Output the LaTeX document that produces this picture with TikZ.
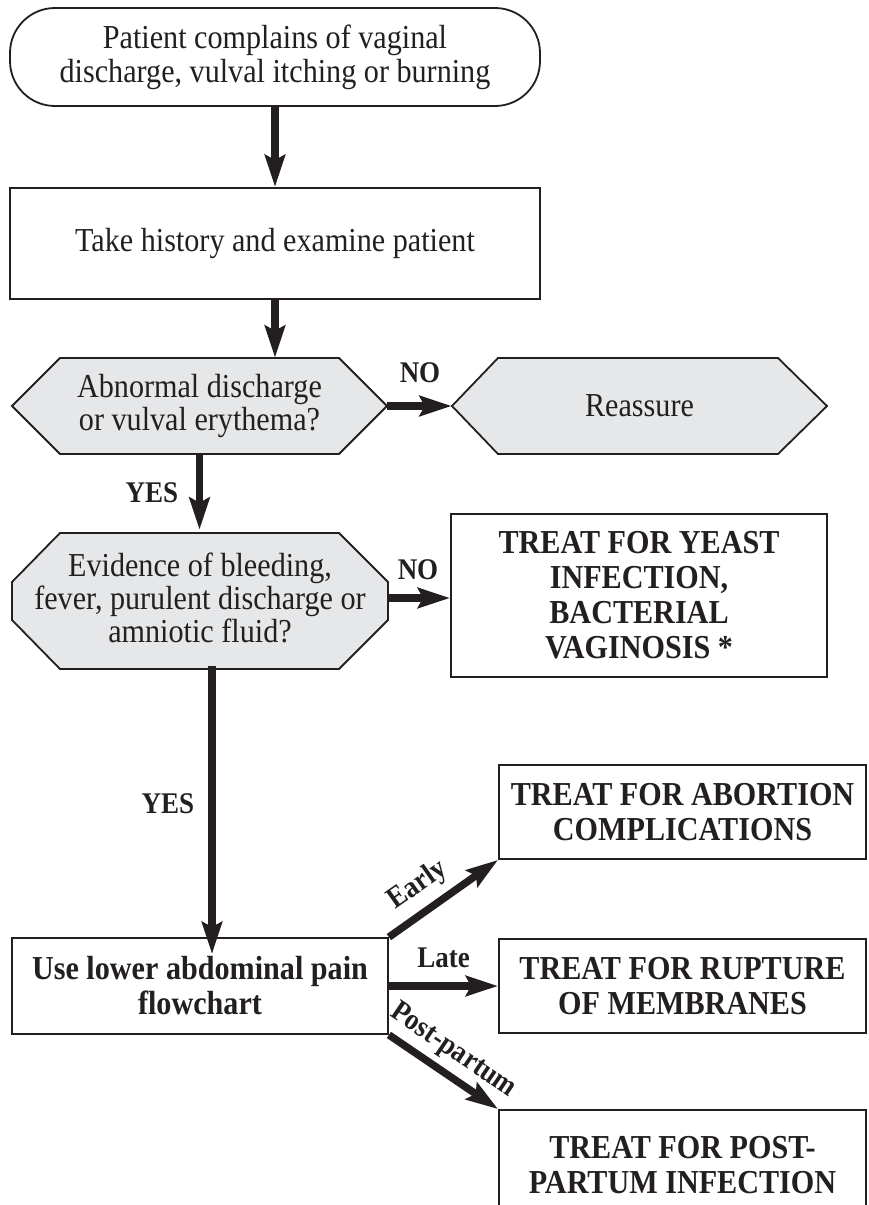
\documentclass[tikz,border=0pt]{standalone}
\usepackage{fontspec}
\setmainfont{Liberation Serif}[FakeStretch=0.9]
\usetikzlibrary{arrows.meta,calc}
\definecolor{ink}{HTML}{231F20}
\definecolor{hexfill}{HTML}{E6E7E8}
\begin{document}
\begin{tikzpicture}[x=1pt,y=-1pt,
  every node/.style={text=ink},
  rbox/.style={draw=ink, line width=1.8pt, fill=white, inner sep=0pt, align=center,
    font=\fontsize{33.5}{34}\selectfont},
  bbox/.style={rbox, font=\bfseries\fontsize{33.5}{35}\selectfont},
  hexpath/.style={draw=ink, line width=1.8pt, fill=hexfill, line join=miter},
  hexnode/.style={inner sep=0pt, align=center, font=\fontsize{33.5}{33}\selectfont},
  lbl/.style={font=\bfseries\fontsize{30}{30}\selectfont, inner sep=0pt},
  arr/.style={draw=ink, line width=7.5pt, -{Stealth[length=32pt,width=20pt,inset=5pt]}},
]
\clip (0,0) rectangle (869,1205);
\fill[white] (0,0) rectangle (869,1205);

% start and history
\node[rbox, rounded corners=45pt, minimum width=530pt, minimum height=98pt] (start) at (275,57)
  {Patient complains of vaginal\\discharge, vulval itching or burning};
\node[rbox, minimum width=530pt, minimum height=111pt] (hist) at (275,243.5)
  {Take history and examine patient};

% question 1
\draw[hexpath] (12,406) -- (60,358) -- (339,358) -- (387,406) -- (339,454) -- (60,454) -- cycle;
\node[hexnode, minimum width=375pt, minimum height=96pt] (q1) at (199.5,406)
  {Abnormal discharge\\or vulval erythema?};

% reassure
\draw[hexpath] (452,406) -- (498,358) -- (778,358) -- (827,406) -- (778,454) -- (498,454) -- cycle;
\node[hexnode, minimum width=375pt, minimum height=96pt] (reas) at (639.5,406) {Reassure};

% question 2
\draw[hexpath] (12,582) -- (60,533) -- (339,533) -- (388,582) -- (388,620) -- (339,669)
  -- (60,669) -- (12,620) -- cycle;
\node[hexnode, minimum width=376pt, minimum height=136pt] (q2) at (200,598)
  {Evidence of bleeding,\\fever, purulent discharge or\\amniotic fluid?};

% yeast
\node[bbox, minimum width=376pt, minimum height=163pt] (yeast) at (639,595.5)
  {TREAT FOR YEAST\\INFECTION,\\BACTERIAL\\VAGINOSIS *};

% lower abdominal pain
\node[bbox, minimum width=376pt, minimum height=96pt] (lap) at (200,986)
  {Use lower abdominal pain\\flowchart};

% treatment boxes
\node[bbox, minimum width=367pt, minimum height=94pt] (abort) at (682.5,812)
  {TREAT FOR ABORTION\\COMPLICATIONS};
\node[bbox, minimum width=367pt, minimum height=94pt] (rupt) at (682.5,986)
  {TREAT FOR RUPTURE\\OF MEMBRANES};
\node[bbox, minimum width=367pt, minimum height=110pt] (ppbox) at (682.5,1165)
  {TREAT FOR POST-\\PARTUM INFECTION};

% connectors
\draw[arr] (start) -- (hist);
\draw[arr] (hist.south) -- (hist.south |- q1.north);
\draw[arr] (q1.east) -- (reas.west);
\draw[arr] (q1.south) -- (q1.south |- q2.north);
\draw[arr] (q2.east) -- (q2.east -| yeast.west);
\draw[arr] ($(q2.south)+(12,0)$) -- ($(lap.north)+(12,17)$);
\draw[arr] (lap.north east) -- node[lbl, sloped, above=8pt, pos=0.4] (learly) {Early} (abort.south west);
\draw[arr] (lap.east) -- node[lbl, above=14pt, midway] (llate) {Late} (lap.east -| rupt.west);
\draw[arr] (lap.south east) -- node[lbl, sloped, above=6pt, pos=0.47] (lpp) {Post-partum} (ppbox.north west);

% labels
\node[lbl] (lno1) at (420,373) {NO};
\node[lbl] (lyes1) at (152,493) {YES};
\node[lbl] (lno2) at (418,570) {NO};
\node[lbl] (lyes2) at (168,804) {YES};
\end{tikzpicture}
\end{document}
